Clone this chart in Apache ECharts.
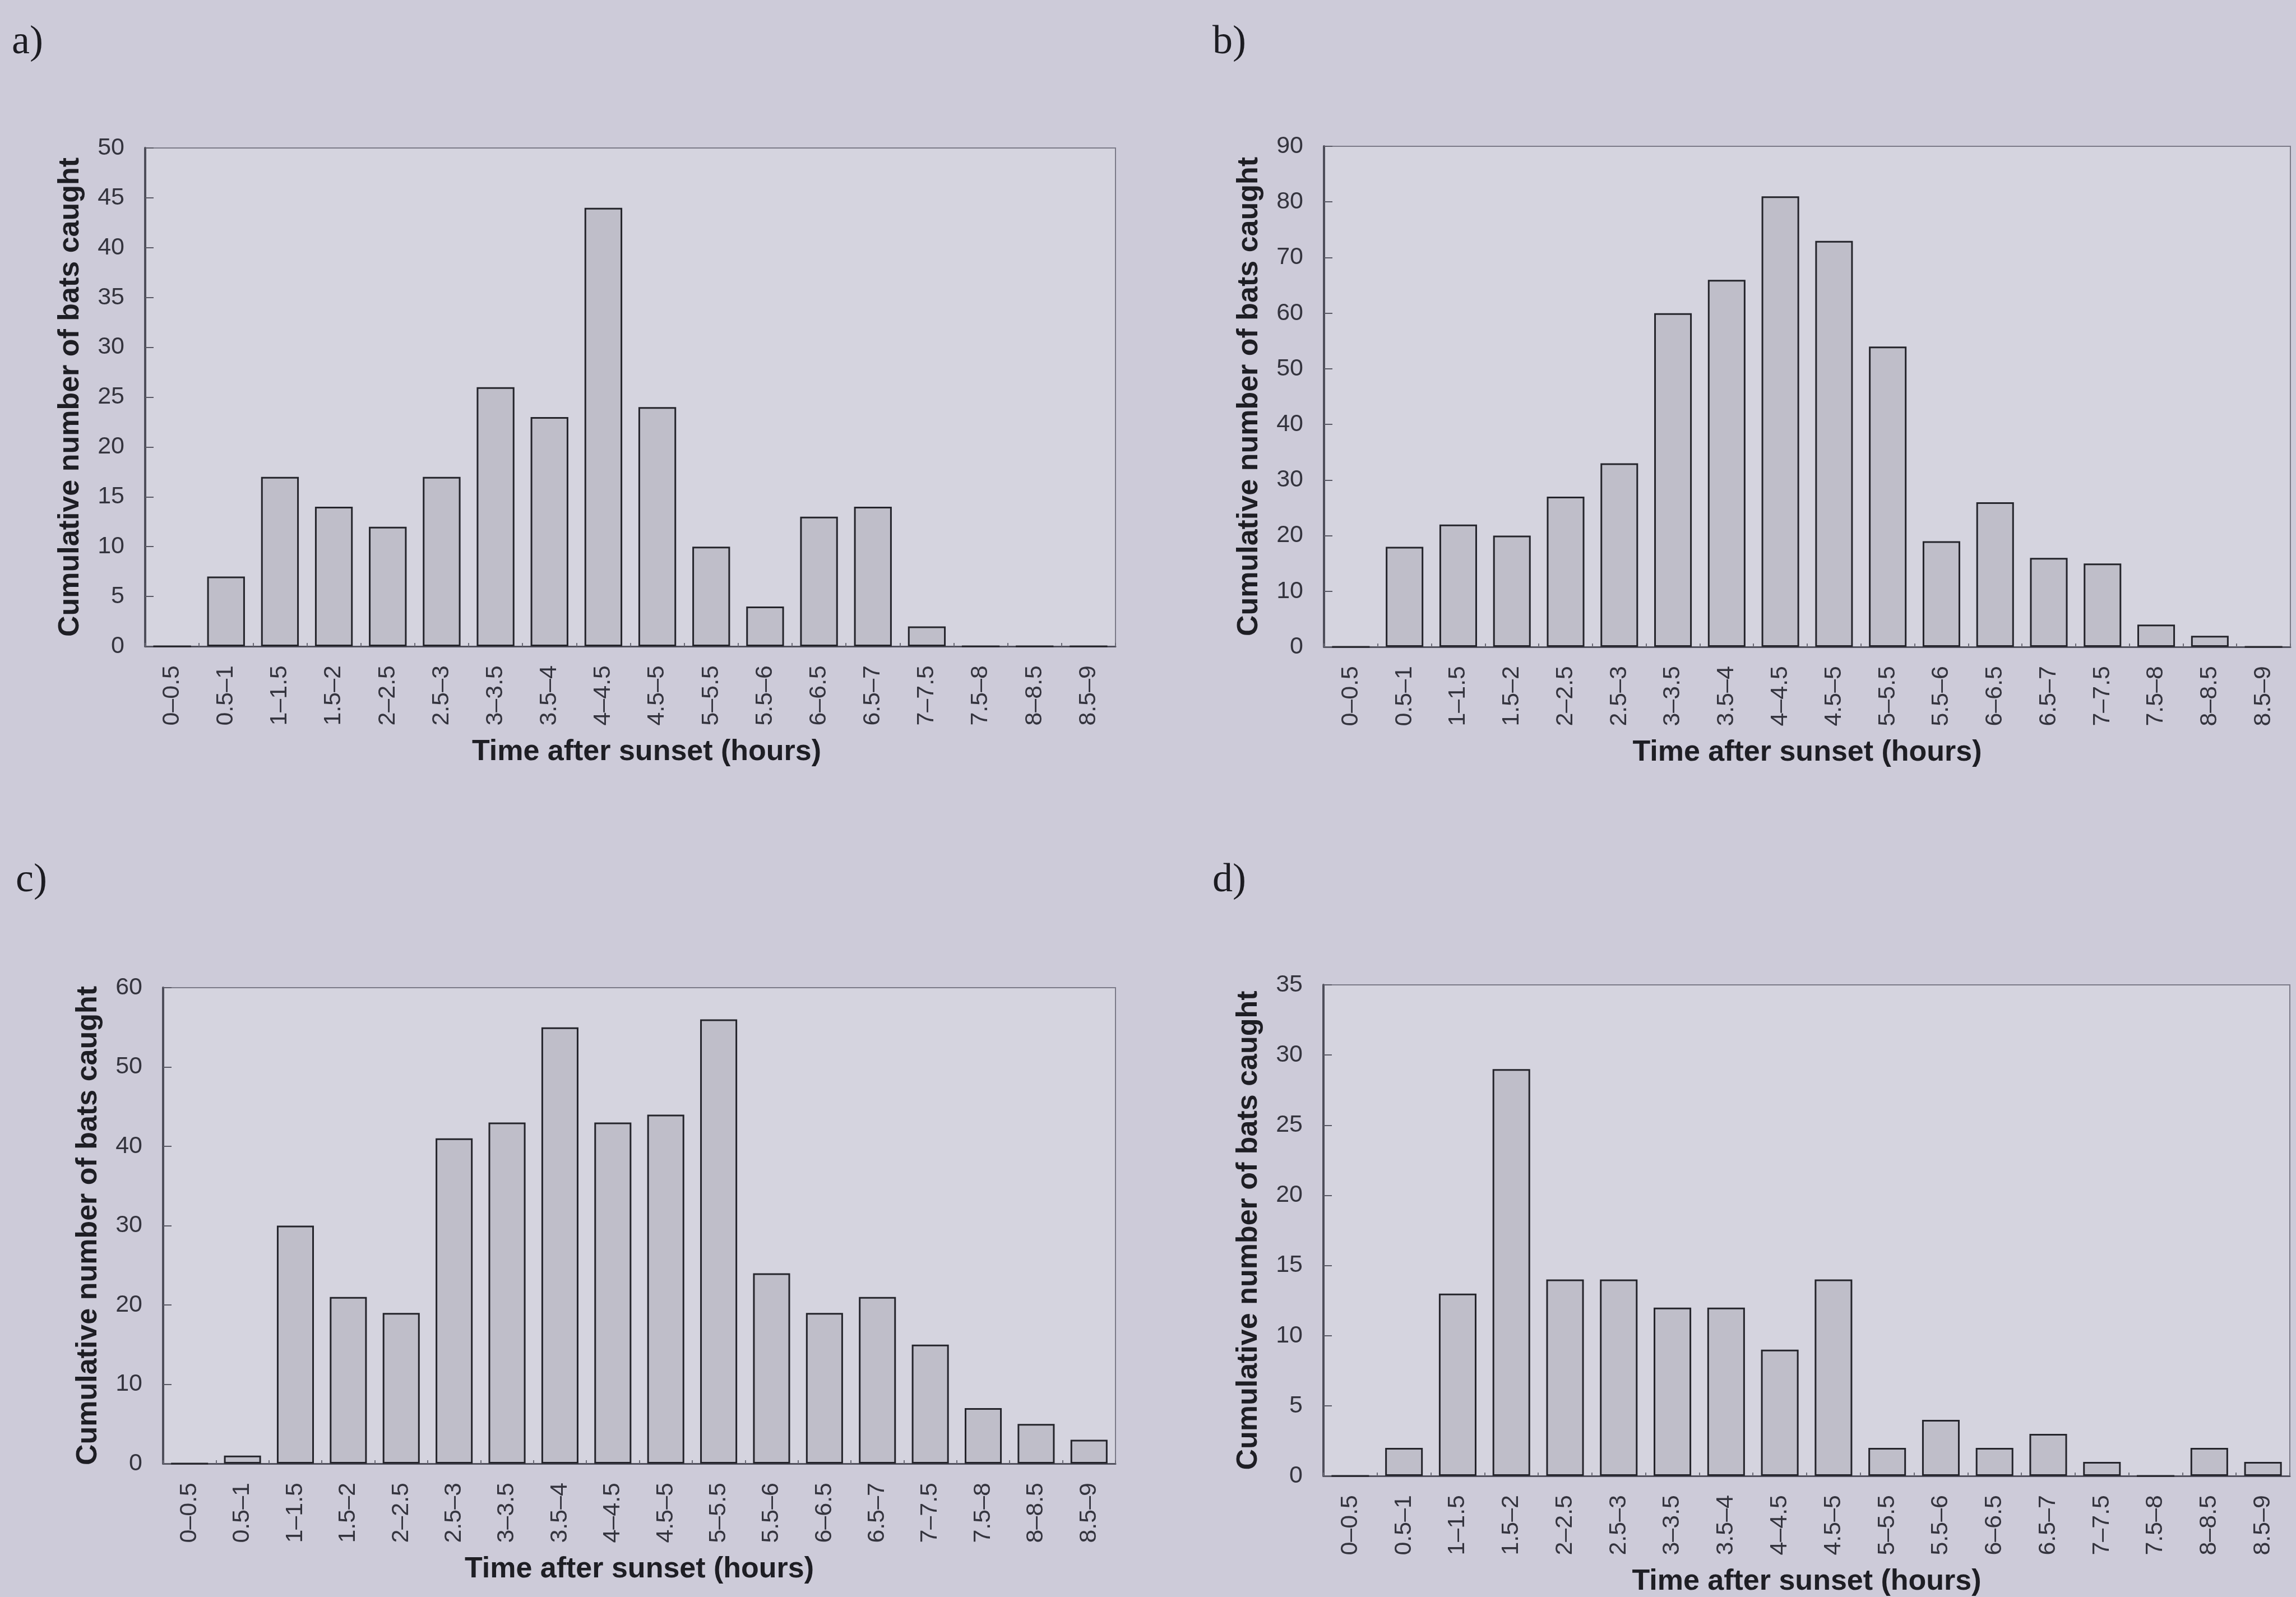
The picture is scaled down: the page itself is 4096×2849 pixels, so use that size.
<!DOCTYPE html>
<html>
<head>
<meta charset="utf-8">
<script src="https://cdn.jsdelivr.net/npm/echarts@6/dist/echarts.min.js"></script>
<style>
  html, body { margin: 0; padding: 0; background: #cdcbd9; }
  #chart { width: 4096px; height: 2849px; }
</style>
</head>
<body>
<div id="chart"></div>
<script>
// Half-hour bins after sunset
const categories = ['0–0.5', '0.5–1', '1–1.5', '1.5–2', '2–2.5', '2.5–3', '3–3.5', '3.5–4', '4–4.5',
                    '4.5–5', '5–5.5', '5.5–6', '6–6.5', '6.5–7', '7–7.5', '7.5–8', '8–8.5', '8.5–9'];

// Bats caught per bin, one array per panel
const valuesA = [0, 7, 17, 14, 12, 17, 26, 23, 44, 24, 10, 4, 13, 14, 2, 0, 0, 0];
const valuesB = [0, 18, 22, 20, 27, 33, 60, 66, 81, 73, 54, 19, 26, 16, 15, 4, 2, 0];
const valuesC = [0, 1, 30, 21, 19, 41, 43, 55, 43, 44, 56, 24, 19, 21, 15, 7, 5, 3];
const valuesD = [0, 2, 13, 29, 14, 14, 12, 12, 9, 14, 2, 4, 2, 3, 1, 0, 2, 1];

// Value-axis ranges per panel
const yMaxA = 50, yStepA = 5;
const yMaxB = 90, yStepB = 10;
const yMaxC = 60, yStepC = 10;
const yMaxD = 35, yStepD = 5;

const panelLetters = ['a)', 'b)', 'c)', 'd)'];
const yTitle = 'Cumulative number of bats caught';
const xTitle = 'Time after sunset (hours)';

const panels = [
  { values: valuesA, max: yMaxA, step: yStepA, grid: { left: 259, top: 264, width: 1731, height: 889 }, letter: [21, 80], titleShift: 58 },
  { values: valuesB, max: yMaxB, step: yStepB, grid: { left: 2362, top: 261, width: 1724, height: 893 }, letter: [2163, 80], titleShift: 0 },
  { values: valuesC, max: yMaxC, step: yStepC, grid: { left: 291, top: 1762, width: 1699, height: 849 }, letter: [28, 1575], titleShift: 0 },
  { values: valuesD, max: yMaxD, step: yStepD, grid: { left: 2361, top: 1757, width: 1724, height: 881 }, letter: [2163, 1575], titleShift: 0 }
];

const sansFont = '"Liberation Sans", Arial, sans-serif';
const tickColor = '#34343e';

const grids = [], xAxes = [], yAxes = [], series = [], graphics = [];

panels.forEach((p, i) => {
  grids.push(Object.assign({
    show: true,
    backgroundColor: '#d5d4df',
    borderColor: '#7b7a88',
    borderWidth: 2,
    containLabel: false
  }, p.grid));

  xAxes.push({
    type: 'category',
    gridIndex: i,
    data: categories,
    boundaryGap: true,
    name: xTitle,
    nameLocation: 'middle',
    nameGap: 163,
    nameTextStyle: {
      fontFamily: sansFont, fontWeight: 'bold', fontSize: 52, color: '#1e1e24',
      padding: [0, 0, 0, p.titleShift]
    },
    axisLine: { show: true, lineStyle: { color: '#50505c', width: 3 } },
    axisTick: { show: true, inside: true, length: 6, interval: 0, alignWithLabel: false, lineStyle: { color: '#6a6a76', width: 2 } },
    axisLabel: {
      interval: 0,
      rotate: 90,
      margin: 34,
      fontFamily: sansFont,
      fontSize: 43,
      color: tickColor
    },
    splitLine: { show: false }
  });

  yAxes.push({
    type: 'value',
    gridIndex: i,
    min: 0,
    max: p.max,
    interval: p.step,
    name: yTitle,
    nameLocation: 'middle',
    nameGap: 107,
    nameTextStyle: { fontFamily: sansFont, fontWeight: 'bold', fontSize: 52, color: '#1e1e24' },
    axisLine: { show: true, lineStyle: { color: '#4e4e5a', width: 4 } },
    axisTick: { show: true, inside: true, length: 15, lineStyle: { color: '#5a5a66', width: 2 } },
    axisLabel: {
      margin: 37,
      fontFamily: sansFont,
      fontSize: 43,
      color: tickColor
    },
    splitLine: { show: false }
  });

  series.push({
    type: 'bar',
    xAxisIndex: i,
    yAxisIndex: i,
    data: p.values,
    barWidth: '70%',
    itemStyle: { color: '#bfbec9', borderColor: '#24242b', borderWidth: 3 },
    emphasis: { disabled: true },
    animation: false
  });

  graphics.push({
    type: 'text',
    left: p.letter[0],
    top: p.letter[1] - 40,
    style: {
      text: panelLetters[i],
      font: '72px "Liberation Serif", "Times New Roman", serif',
      fill: '#1c1c22'
    }
  });
});

const chart = echarts.init(document.getElementById('chart'), null, { renderer: 'canvas' });
chart.setOption({
  backgroundColor: '#cdcbd9',
  animation: false,
  grid: grids,
  xAxis: xAxes,
  yAxis: yAxes,
  series: series,
  graphic: graphics
});
</script>
</body>
</html>
